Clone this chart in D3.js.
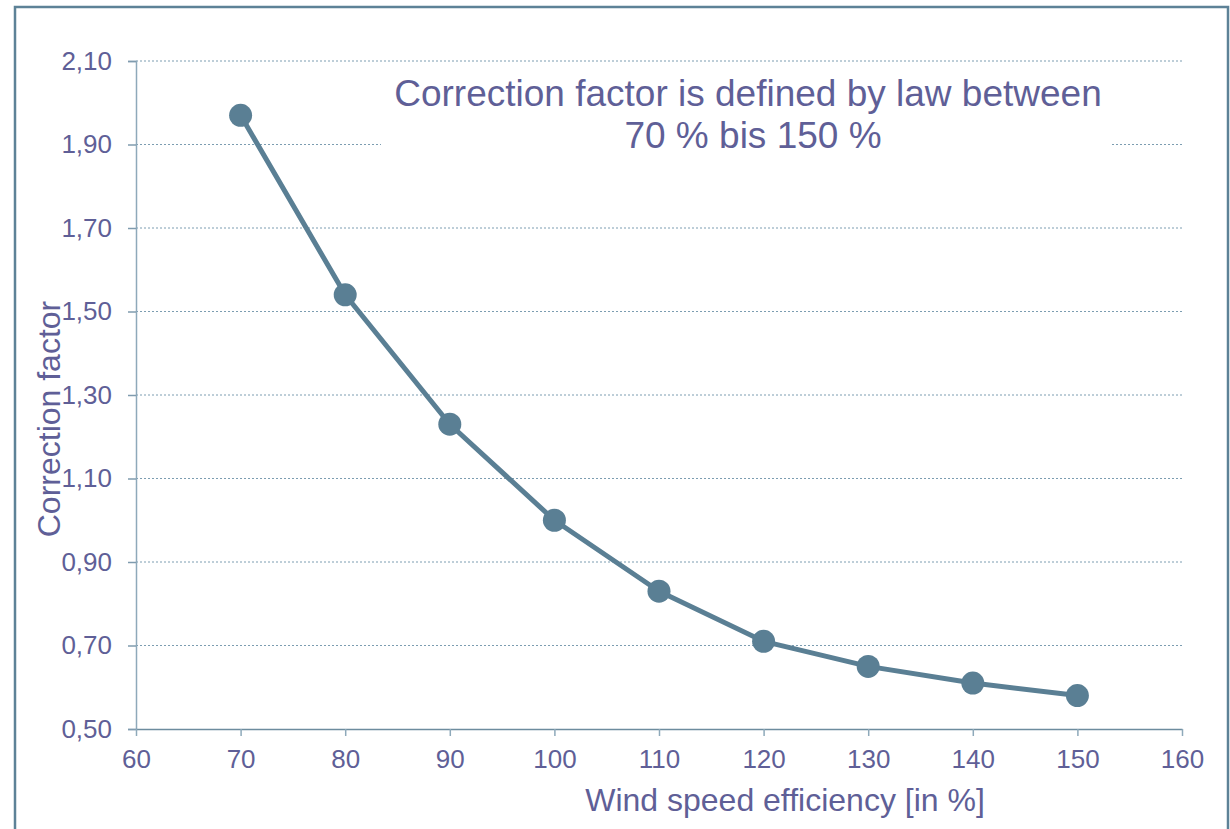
<!DOCTYPE html>
<html>
<head>
<meta charset="utf-8">
<script src="https://cdn.jsdelivr.net/npm/d3@7"></script>
<style>
  html, body { margin: 0; padding: 0; background: #fff; }
  svg { display: block; font-family: Arial, "Liberation Sans", sans-serif; }
</style>
</head>
<body>
<svg id="chart" width="1230" height="829"></svg>
<script>
const efficiency = [70, 80, 90, 100, 110, 120, 130, 140, 150];
const correction = [1.97, 1.54, 1.23, 1.00, 0.83, 0.71, 0.65, 0.61, 0.58];
const xTicks = [60, 70, 80, 90, 100, 110, 120, 130, 140, 150, 160];
const yTicks = [0.50, 0.70, 0.90, 1.10, 1.30, 1.50, 1.70, 1.90, 2.10];
const titleLines = ["Correction factor is defined by law between", "70 % bis 150 %"];
const xTitle = "Wind speed efficiency [in %]";
const yTitle = "Correction factor";

const textColor = "#5f5f97";
const lineColor = "#5a7f94";
const gridColor = "#7c9db1";

const svg = d3.select("#chart");

// outer frame
svg.append("rect")
  .attr("x", 15).attr("y", 7).attr("width", 1213).attr("height", 840)
  .attr("fill", "none").attr("stroke", "#5d8297").attr("stroke-width", 2.5);

const x = d3.scaleLinear().domain([60, 160]).range([136, 1182]);
const y = d3.scaleLinear().domain([0.50, 2.10]).range([729, 61]);

// gridlines
svg.append("g").selectAll("line")
  .data(yTicks.filter(d => d > 0.5))
  .join("line")
  .attr("x1", x(60)).attr("x2", x(160))
  .attr("y1", d => y(d)).attr("y2", d => y(d))
  .attr("stroke", gridColor).attr("stroke-width", 1)
  .attr("stroke-dasharray", "2,2");

// white title box covering grid
svg.append("rect")
  .attr("x", 381).attr("y", 70).attr("width", 731).attr("height", 95)
  .attr("fill", "#fff");

// y axis
const yAxis = svg.append("g")
  .attr("transform", `translate(${x(60)},0)`)
  .call(d3.axisLeft(y).tickValues(yTicks).tickSize(8).tickPadding(16)
    .tickFormat(d => d3.format(".2f")(d).replace(".", ",")));
yAxis.select(".domain").attr("stroke", "#8ea9ba").attr("stroke-width", 1.5);
yAxis.selectAll(".tick line").attr("stroke", "#7f9bae").attr("stroke-width", 1.5);
yAxis.selectAll(".tick text").attr("fill", textColor)
  .style("font-size", "26px").style("font-family", "Arial, 'Liberation Sans', sans-serif");

// x axis
const xAxis = svg.append("g")
  .attr("transform", `translate(0,${y(0.5)})`)
  .call(d3.axisBottom(x).tickValues(xTicks).tickSize(7).tickPadding(14).tickSizeOuter(0));
xAxis.select(".domain").attr("stroke", "#6d8c9e").attr("stroke-width", 1.5);
xAxis.selectAll(".tick line").attr("stroke", "#8ea9ba").attr("stroke-width", 1.5);
xAxis.selectAll(".tick text").attr("fill", textColor)
  .style("font-size", "26px").style("font-family", "Arial, 'Liberation Sans', sans-serif");

// line
const data = efficiency.map((e, i) => ({ e, c: correction[i] }));
svg.append("path")
  .datum(data)
  .attr("fill", "none")
  .attr("stroke", lineColor)
  .attr("stroke-width", 5)
  .attr("stroke-linejoin", "round")
  .attr("d", d3.line().x(d => x(d.e)).y(d => y(d.c)));

svg.append("g").selectAll("circle")
  .data(data)
  .join("circle")
  .attr("cx", d => x(d.e)).attr("cy", d => y(d.c))
  .attr("r", 11.5)
  .attr("fill", lineColor);

// title text
svg.append("text")
  .attr("x", 748).attr("y", 106)
  .attr("text-anchor", "middle")
  .attr("fill", textColor)
  .style("font-size", "37px")
  .text(titleLines[0]);
svg.append("text")
  .attr("x", 753).attr("y", 148)
  .attr("text-anchor", "middle")
  .attr("fill", textColor)
  .style("font-size", "37px")
  .text(titleLines[1]);

// axis titles
svg.append("text")
  .attr("x", 785).attr("y", 811)
  .attr("text-anchor", "middle")
  .attr("fill", textColor)
  .style("font-size", "32px")
  .text(xTitle);

svg.append("text")
  .attr("transform", "translate(60,419) rotate(-90)")
  .attr("text-anchor", "middle")
  .attr("fill", textColor)
  .style("font-size", "32px")
  .text(yTitle);
</script>
</body>
</html>
